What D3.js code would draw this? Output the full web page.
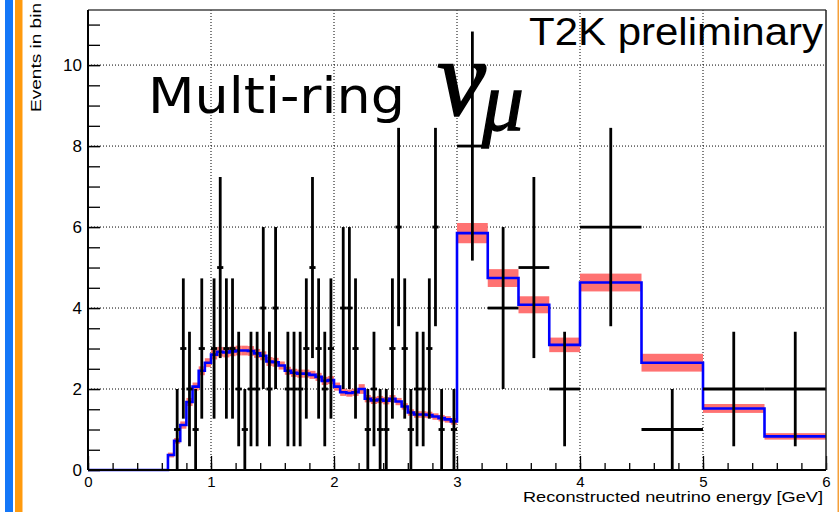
<!DOCTYPE html>
<html>
<head>
<meta charset="utf-8">
<script src="https://cdn.jsdelivr.net/npm/d3@7"></script>
<style>
  html, body { margin: 0; padding: 0; background: #fff; }
  svg { display: block; font-family: "Liberation Sans", Arial, sans-serif; }
</style>
</head>
<body>
<div id="chart"></div>
<script>
// Multi-ring numu: reconstructed energy, MC prediction (band) vs data (crosses)

// bin edges in GeV: 0.05 GeV bins up to 3, coarser above
const binEdges = [
  0.00, 0.05, 0.10, 0.15, 0.20, 0.25, 0.30, 0.35, 0.40, 0.45,
  0.50, 0.55, 0.60, 0.65, 0.70, 0.75, 0.80, 0.85, 0.90, 0.95,
  1.00, 1.05, 1.10, 1.15, 1.20, 1.25, 1.30, 1.35, 1.40, 1.45,
  1.50, 1.55, 1.60, 1.65, 1.70, 1.75, 1.80, 1.85, 1.90, 1.95,
  2.00, 2.05, 2.10, 2.15, 2.20, 2.25, 2.30, 2.35, 2.40, 2.45,
  2.50, 2.55, 2.60, 2.65, 2.70, 2.75, 2.80, 2.85, 2.90, 2.95,
  3.00, 3.25, 3.50, 3.75, 4.00, 4.50, 5.00, 5.50, 6.00
];

// MC prediction per bin
const mcValues = [
  0, 0, 0, 0, 0, 0, 0, 0, 0, 0,
  0, 0, 0, 0.37, 0.72, 1.11, 1.68, 2.06, 2.45, 2.65,
  2.85, 2.92, 2.90, 2.93, 2.95, 2.95, 2.94, 2.88, 2.82, 2.68,
  2.66, 2.58, 2.45, 2.40, 2.38, 2.38, 2.35, 2.30, 2.20, 2.22,
  2.06, 1.92, 1.90, 1.92, 2.00, 1.76, 1.72, 1.74, 1.71, 1.76,
  1.69, 1.57, 1.42, 1.37, 1.37, 1.36, 1.32, 1.28, 1.25, 1.20,
  5.85, 4.74, 4.08, 3.09, 4.63, 2.65, 1.52, 0.83
];

// MC systematic uncertainty (half width of red band)
const mcErrors = [
  0, 0, 0, 0, 0, 0, 0, 0, 0, 0,
  0, 0, 0, 0.06, 0.07, 0.09, 0.10, 0.10, 0.11, 0.11,
  0.12, 0.12, 0.12, 0.12, 0.12, 0.12, 0.12, 0.11, 0.11, 0.11,
  0.11, 0.10, 0.10, 0.10, 0.10, 0.10, 0.10, 0.10, 0.10, 0.10,
  0.10, 0.09, 0.09, 0.09, 0.12, 0.09, 0.09, 0.09, 0.09, 0.09,
  0.09, 0.08, 0.08, 0.08, 0.08, 0.08, 0.08, 0.08, 0.08, 0.08,
  0.25, 0.22, 0.21, 0.18, 0.22, 0.22, 0.11, 0.08
];

// observed events per bin
const dataCounts = [
  0, 0, 0, 0, 0, 0, 0, 0, 0, 0,
  0, 0, 0, 0, 1, 3, 2, 1, 3, 0,
  3, 5, 3, 3, 2, 1, 2, 2, 4, 2,
  4, 0, 2, 2, 2, 3, 5, 3, 2, 3,
  0, 4, 4, 3, 0, 1, 2, 1, 1, 3,
  6, 3, 1, 2, 2, 3, 6, 1, 0, 1,
  8, 4, 5, 2, 6, 1, 2, 2
];

const xTicks = [0, 1, 2, 3, 4, 5, 6];
const yTicks = [0, 2, 4, 6, 8, 10];
const xGrid = [1, 2, 3, 4, 5];
const yGrid = [2, 4, 6, 8, 10];

const W = 840, H = 512;
const margin = { top: 10, right: 14, bottom: 42, left: 88 };

const svg = d3.select("#chart").append("svg")
  .attr("width", W).attr("height", H).attr("viewBox", `0 0 ${W} ${H}`);

// slide decorations at the edges
svg.append("rect").attr("x", 5).attr("y", 0).attr("width", 8).attr("height", H).attr("fill", "#1477f8");
svg.append("rect").attr("x", 15).attr("y", 0).attr("width", 7.5).attr("height", H).attr("fill", "#ff9a0e");
svg.append("rect").attr("x", 837.5).attr("y", 0).attr("width", 1.5).attr("height", H).attr("fill", "#f5a03a");

const x = d3.scaleLinear().domain([0, 6]).range([margin.left, W - margin.right]);
const y = d3.scaleLinear().domain([0, 11.36]).range([H - margin.bottom, margin.top]);

const x0 = x(0), x1 = x(6), yb = y(0), yt = margin.top;

// grid
const gGrid = svg.append("g").attr("stroke", "#000").attr("stroke-width", 1).attr("stroke-dasharray", "1,2");
gGrid.selectAll("line.gx").data(xGrid).join("line").attr("class", "gx")
  .attr("x1", d => x(d)).attr("x2", d => x(d)).attr("y1", yt).attr("y2", yb);
gGrid.selectAll("line.gy").data(yGrid).join("line").attr("class", "gy")
  .attr("x1", x0).attr("x2", x1).attr("y1", d => y(d)).attr("y2", d => y(d));

const bins = mcValues.map((v, i) => ({
  lo: binEdges[i], hi: binEdges[i + 1], mc: v, err: mcErrors[i], n: dataCounts[i]
}));

// MC band
svg.append("g").selectAll("rect").data(bins.filter(b => b.err > 0)).join("rect")
  .attr("x", b => x(b.lo)).attr("width", b => x(b.hi) - x(b.lo))
  .attr("y", b => y(b.mc + b.err)).attr("height", b => y(b.mc - b.err) - y(b.mc + b.err))
  .attr("fill", "#ff7272");

// MC histogram line
const pts = [];
bins.forEach(b => { pts.push([b.lo, b.mc]); pts.push([b.hi, b.mc]); });
svg.append("path")
  .attr("d", d3.line().x(d => x(d[0])).y(d => y(d[1]))(pts))
  .attr("fill", "none").attr("stroke", "#0000ff").attr("stroke-width", 2.6);

// data crosses
const gData = svg.append("g").attr("stroke", "#000").attr("stroke-width", 2.8);
const withData = bins.filter(b => b.n > 0);
gData.selectAll("line.h").data(withData).join("line").attr("class", "h")
  .attr("x1", b => x(b.lo)).attr("x2", b => x(b.hi))
  .attr("y1", b => y(b.n)).attr("y2", b => y(b.n));
gData.selectAll("line.v").data(withData).join("line").attr("class", "v")
  .attr("x1", b => x((b.lo + b.hi) / 2)).attr("x2", b => x((b.lo + b.hi) / 2))
  .attr("y1", b => y(b.n + Math.sqrt(b.n))).attr("y2", b => y(b.n - Math.sqrt(b.n)));

// axes (ticks point into the frame)
const gX = svg.append("g").attr("transform", `translate(0,${yb})`);
gX.call(d3.axisBottom(x).tickValues(d3.range(0, 6.001, 0.2)).tickSize(-7).tickFormat(""));
const gXm = svg.append("g").attr("transform", `translate(0,${yb})`);
gXm.call(d3.axisBottom(x).tickValues(xTicks).tickSize(-14).tickPadding(6).tickFormat(d3.format("d")));
const gY = svg.append("g").attr("transform", `translate(${x0},0)`);
gY.call(d3.axisLeft(y).tickValues(d3.range(0, 11.01, 0.5)).tickSize(-12).tickFormat(""));
const gYm = svg.append("g").attr("transform", `translate(${x0},0)`);
gYm.call(d3.axisLeft(y).tickValues(yTicks).tickSize(-12).tickPadding(6).tickFormat(d3.format("d")));

[gX, gXm, gY, gYm].forEach(g => {
  g.select(".domain").remove();
  g.selectAll(".tick line").attr("stroke", "#000").attr("stroke-width", 1.3);
  g.selectAll("text").attr("font-family", "Liberation Sans, Arial, sans-serif").attr("fill", "#000");
});
gXm.selectAll("text").attr("font-size", 15);
gYm.selectAll("text").attr("font-size", 17);

// frame
svg.append("line").attr("x1", x0).attr("x2", x1).attr("y1", yt).attr("y2", yt)
  .attr("stroke", "#444").attr("stroke-width", 1.5);
svg.append("line").attr("x1", x1).attr("x2", x1).attr("y1", yt).attr("y2", yb)
  .attr("stroke", "#222").attr("stroke-width", 1.5);
svg.append("line").attr("x1", x0).attr("x2", x1).attr("y1", yb).attr("y2", yb)
  .attr("stroke", "#000").attr("stroke-width", 2);
svg.append("line").attr("x1", x0).attr("x2", x0).attr("y1", yt).attr("y2", yb)
  .attr("stroke", "#000").attr("stroke-width", 2);

// axis titles
svg.append("text")
  .attr("x", 823).attr("y", 502).attr("text-anchor", "end")
  .attr("font-size", 15.5).attr("textLength", 300).attr("lengthAdjust", "spacingAndGlyphs")
  .text("Reconstructed neutrino energy [GeV]");
svg.append("text")
  .attr("transform", "translate(41,3) rotate(-90)").attr("text-anchor", "end")
  .attr("font-size", 15).attr("textLength", 109).attr("lengthAdjust", "spacingAndGlyphs")
  .text("Events in bin");

// labels
svg.append("text")
  .attr("x", 529).attr("y", 45)
  .attr("font-size", 38).attr("textLength", 294).attr("lengthAdjust", "spacingAndGlyphs")
  .text("T2K preliminary");
svg.append("text")
  .attr("x", 148).attr("y", 113)
  .attr("font-family", "DejaVu Sans, sans-serif")
  .attr("font-size", 50).attr("textLength", 257).attr("lengthAdjust", "spacingAndGlyphs")
  .text("Multi-ring");
const nu = svg.append("text")
  .attr("x", 437).attr("y", 115)
  .attr("font-family", "Liberation Serif, serif").attr("font-style", "italic")
  .attr("font-size", 110).attr("stroke", "#000").attr("stroke-width", 1.6)
  .text("ν");
nu.append("tspan")
  .attr("dx", -4).attr("dy", 15)
  .attr("font-size", 84).attr("stroke-width", 1.3)
  .text("μ");
</script>
</body>
</html>
